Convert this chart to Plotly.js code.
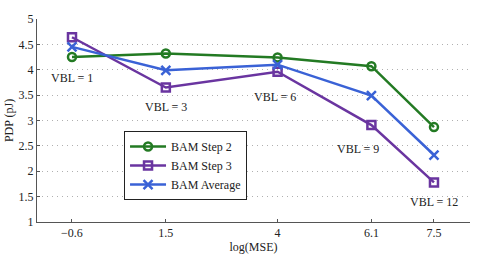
<!DOCTYPE html>
<html><head><meta charset="utf-8">
<script src="https://cdn.plot.ly/plotly-3.0.1.min.js"></script>
<style>html,body{margin:0;padding:0;background:#fff;}#chart{width:485px;height:258px;}</style>
</head><body><div id="chart"></div>
<script>
var xVals = [-0.6, 1.5, 4, 6.1, 7.5];
var xTickLabels = ['\u22120.6', '1.5', '4', '6.1', '7.5'];
var step2 = [4.25, 4.32, 4.24, 4.07, 2.87];
var step3 = [4.64, 3.65, 3.96, 2.91, 1.78];
var average = [4.45, 3.99, 4.10, 3.49, 2.32];
var seriesNames = ['BAM Step 2', 'BAM Step 3', 'BAM Average'];
var vblLabels = ['VBL = 1', 'VBL = 3', 'VBL = 6', 'VBL = 9', 'VBL = 12'];
var vblX = [-0.6, 1.5, 3.95, 5.8, 7.5];
var vblY = [3.84, 3.27, 3.46, 2.43, 1.40];

var font = "'Liberation Serif', 'Times New Roman', serif";
var colors = ['#237a23', '#6a35a0', '#3a62d6'];
var symbols = ['circle-open', 'square-open', 'x-thin-open'];
var ys = [step2, step3, average];
var traces = ys.map(function(y, i){
  return {x: xVals, y: y, name: seriesNames[i], type: 'scatter', mode: 'lines+markers',
    line: {color: colors[i], width: 2.5},
    marker: {symbol: symbols[i], size: i===2 ? 9 : 8, color: colors[i], line: {color: colors[i], width: 2.5}}};
});
var annotations = vblLabels.map(function(t, i){
  return {x: vblX[i], y: vblY[i], text: t, showarrow: false, xref: 'x', yref: 'y',
    font: {family: font, size: 12, color: '#222'}};
});
var layout = {
  width: 485, height: 258,
  margin: {l: 37, r: 15, t: 19, b: 36},
  paper_bgcolor: '#fff', plot_bgcolor: '#fff',
  font: {family: font, size: 12, color: '#222'},
  showlegend: true,
  legend: {x: 0.201, y: 0.448, xanchor: 'left', yanchor: 'top', bgcolor: '#fff',
    bordercolor: '#222', borderwidth: 1, font: {family: font, size: 12, color: '#222'},
    tracegroupgap: 0, itemwidth: 36},
  xaxis: {range: [-1.383, 8.306], tickmode: 'array', tickvals: xVals, ticktext: xTickLabels,
    showgrid: false, zeroline: false, showline: true, linecolor: '#555', linewidth: 1,
    ticks: 'inside', ticklen: 3, tickcolor: '#555',
    title: {text: 'log(MSE)', font: {family: font, size: 12}, standoff: 2},
    tickfont: {family: font, size: 12}},
  yaxis: {range: [1, 5], tickvals: [1, 1.5, 2, 2.5, 3, 3.5, 4, 4.5, 5],
    ticktext: ['1', '1.5', '2', '2.5', '3', '3.5', '4', '4.5', '5'],
    showgrid: true, gridcolor: '#b0b0b0', griddash: '1px,4px', gridwidth: 1,
    zeroline: false, showline: true, linecolor: '#555', linewidth: 1,
    ticks: 'inside', ticklen: 3, tickcolor: '#555',
    title: {text: 'PDP (pJ)', font: {family: font, size: 12}, standoff: 2},
    tickfont: {family: font, size: 12}},
  annotations: annotations
};
Plotly.newPlot('chart', traces, layout, {displayModeBar: false, staticPlot: true});
</script></body></html>
